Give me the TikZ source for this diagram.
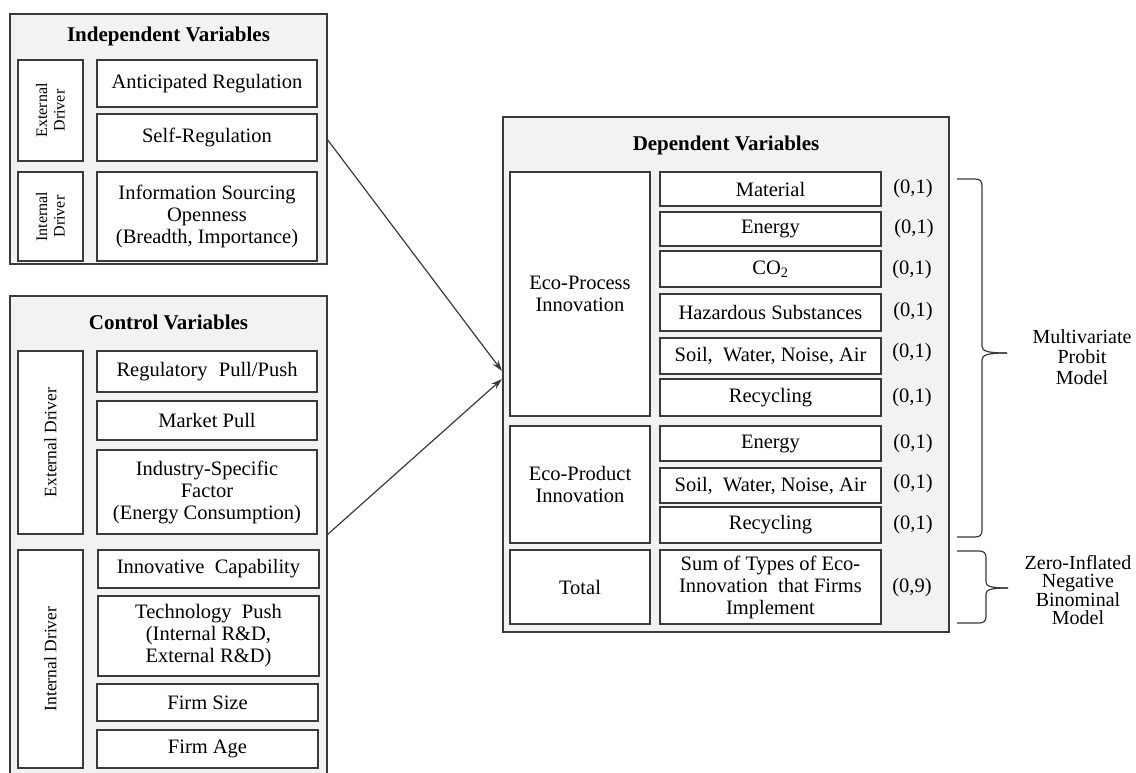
\documentclass[tikz,border=0pt]{standalone}
\usepackage{fontspec}
\setmainfont{Liberation Serif}
\usetikzlibrary{arrows.meta,calc}
\definecolor{outerfill}{HTML}{F2F2F2}
\definecolor{linegray}{HTML}{3A3A3A}
\tikzset{
  outerbox/.style={draw=linegray, fill=outerfill, line width=1.3pt, inner sep=0pt, outer sep=0pt},
  innerbox/.style={draw=linegray, fill=white, line width=1.3pt, inner sep=0pt, outer sep=0pt,
    align=center, font=\fontsize{20.5}{22}\selectfont},
  rotsmall/.style={font=\fontsize{16}{17.5}\selectfont},
  rotlarge/.style={font=\fontsize{17.5}{19}\selectfont},
  titletext/.style={font=\bfseries\fontsize{21}{23}\selectfont, inner sep=0pt},
  lbl/.style={font=\fontsize{20.5}{22}\selectfont, inner sep=0pt},
  modeltext/.style={align=center, inner sep=0pt},
  brace/.style={draw=linegray, line width=1.2pt},
  arr/.style={draw=linegray, line width=1.2pt, -{Stealth[length=11pt,width=7pt]}}
}
% \mybox[style]{name}{x1}{y1}{x2}{y2}{text}
\newcommand{\mybox}[7][]{%
  \node[innerbox,minimum width={(#5-#3)*1pt},minimum height={(#6-#4)*1pt},#1] (#2) at ({(#3+#5)/2},{(#4+#6)/2}) {#7};}
% rotated box
\newcommand{\myrotbox}[7][]{%
  \node[innerbox,rotate=90,minimum width={(#6-#4)*1pt},minimum height={(#5-#3)*1pt},#1] (#2) at ({(#3+#5)/2},{(#4+#6)/2}) {#7};}
\begin{document}
\begin{tikzpicture}[x=1pt,y=-1pt]
\useasboundingbox (0,0) rectangle (1136,772);

% ---------------- Independent Variables ----------------
\node[outerbox, minimum width=317pt, minimum height=250pt] (indep) at (168.5,139) {};
\node[titletext] (indtitle) at (168.5,36) {Independent Variables};
\myrotbox[rotsmall]{extA}{18}{60}{83}{161}{External\\Driver}
\myrotbox[rotsmall]{intA}{18}{172}{83}{261}{Internal\\Driver}
\mybox{antreg}{97}{60}{317}{107}{Anticipated Regulation}
\mybox{selfreg}{97}{114}{317}{161}{Self-Regulation}
\mybox{infosrc}{97}{172}{317}{261}{Information Sourcing\\Openness\\(Breadth, Importance)}

% ---------------- Control Variables ----------------
\node[outerbox, minimum width=317pt, minimum height=478pt] (ctrl) at (168.5,535) {};
\node[titletext] (ctrltitle) at (168.5,322) {Control Variables};
\myrotbox[rotlarge]{extB}{18}{351}{83}{534}{External Driver}
\myrotbox[rotlarge]{intB}{18}{550}{83}{768}{Internal Driver}
\mybox{regpp}{97}{351}{317}{392}{Regulatory\hspace{0.3em} Pull/Push}
\mybox{mkt}{97}{401}{317}{440}{Market Pull}
\mybox{indsf}{97}{450}{317}{534}{Industry-Specific\\Factor\\(Energy Consumption)}
\mybox{innov}{98}{550}{319}{588}{Innovative\hspace{0.25em} Capability}
\mybox{tech}{98}{596}{319}{676}{Technology\hspace{0.25em} Push\\(Internal R\&D,\\External R\&D)}
\mybox{fsize}{97}{684}{318}{721}{Firm Size}
\mybox{fage}{97}{730}{318}{768}{Firm Age}

% ---------------- Dependent Variables ----------------
\node[outerbox, minimum width=446pt, minimum height=515pt] (dep) at (726,374.5) {};
\node[titletext] (deptitle) at (726,145) {Dependent Variables};
\mybox{proc}{510}{172}{650}{416}{Eco-Process\\Innovation}
\mybox{prod}{510}{426}{650}{543}{Eco-Product\\Innovation}
\mybox{tot}{510}{550}{650}{624}{Total}
\mybox{mat}{660}{172}{881}{206}{Material}
\mybox{enA}{660}{212}{881}{246}{Energy}
\mybox{cotwo}{660}{251}{881}{287}{CO\textsubscript{2}}
\mybox{haz}{660}{294}{881}{331}{Hazardous Substances}
\mybox{soilA}{660}{338}{881}{374}{Soil,\ \ Water, Noise, Air}
\mybox{recA}{660}{379}{881}{416}{Recycling}
\mybox{enB}{660}{426}{881}{461}{Energy}
\mybox{soilB}{660}{468}{881}{503}{Soil,\ \ Water, Noise, Air}
\mybox{recB}{660}{507}{881}{543}{Recycling}
\mybox{sumt}{660}{550}{881}{624}{Sum of Types of Eco-\\Innovation\hspace{0.25em} that Firms\\Implement}

\node[lbl] (lA) at (913,189) {(0,1)};
\node[lbl] (lB) at (914,229) {(0,1)};
\node[lbl] (lC) at (912,270) {(0,1)};
\node[lbl] (lD) at (913,312) {(0,1)};
\node[lbl] (lE) at (912,353) {(0,1)};
\node[lbl] (lF) at (912,398) {(0,1)};
\node[lbl] (lG) at (913,444) {(0,1)};
\node[lbl] (lH) at (913,484) {(0,1)};
\node[lbl] (lI) at (913,525) {(0,1)};
\node[lbl] (lJ) at (912,588) {(0,9)};

% ---------------- Braces ----------------
\draw[brace] (957,179) -- (975,179) .. controls (980,179) and (982,181) .. (982,186)
  -- (982,346) .. controls (982,351) and (987,353) .. (1007,353);
\draw[brace] (1007,353) .. controls (987,353) and (982,355) .. (982,360)
  -- (982,530) .. controls (982,535) and (980,537) .. (975,537) -- (957,537);
\draw[brace] (957,551) -- (979,551) .. controls (984,551) and (986,553) .. (986,558)
  -- (986,582) .. controls (986,586) and (990,588) .. (1008,588);
\draw[brace] (1008,588) .. controls (990,588) and (986,590) .. (986,594)
  -- (986,616) .. controls (986,621) and (984,623) .. (979,623) -- (957,623);

\node[modeltext, font=\fontsize{20}{20.5}\selectfont] (mvp) at (1082,357) {Multivariate\\Probit\\Model};
\node[modeltext, font=\fontsize{20}{18.5}\selectfont] (zinb) at (1078,590) {Zero-Inflated\\Negative\\Binominal\\Model};

% ---------------- Arrows ----------------
\coordinate (tipA) at (502,371);
\coordinate (tipB) at (502,379);
\draw[arr] (indep.east) -- (tipA);
\draw[arr] (ctrl.east) -- (tipB);
\end{tikzpicture}
\end{document}
